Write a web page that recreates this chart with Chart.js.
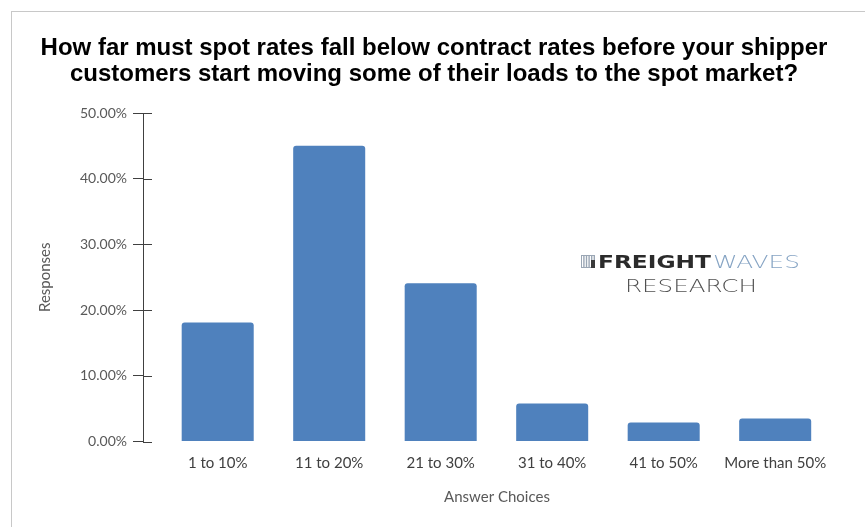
<!DOCTYPE html>
<html>
<head>
<meta charset="utf-8">
<script src="https://cdn.jsdelivr.net/npm/chart.js@4/dist/chart.umd.min.js"></script>
<style>
  html, body { margin: 0; padding: 0; background: #fff; overflow: hidden; }
  #frame { position: absolute; left: 11px; top: 11px; width: 900px; height: 600px; border: 1px solid #c8c8c8; }
  #c { position: absolute; left: 0; top: 0; }
</style>
</head>
<body>
<div id="frame"></div>
<canvas id="c" width="865" height="527"></canvas>
<script>
const categories = ['1 to 10%', '11 to 20%', '21 to 30%', '31 to 40%', '41 to 50%', 'More than 50%'];
const responses = [18.1, 45.0, 24.1, 5.8, 2.9, 3.5];
const yTickValues = [0, 10, 20, 30, 40, 50];
const titleLines = ['How far must spot rates fall below contract rates before your shipper',
                    'customers start moving some of their loads to the spot market?'];
const xAxisTitle = 'Answer Choices';
const yAxisTitle = 'Responses';

const labelFont = 'Lato, Calibri, "Open Sans", sans-serif';

function fitText(ctx, text, x, baseline, width, font, color) {
  ctx.save();
  ctx.font = font;
  ctx.fillStyle = color;
  ctx.textAlign = 'left';
  ctx.textBaseline = 'alphabetic';
  const w = ctx.measureText(text).width;
  ctx.translate(x, baseline);
  ctx.scale(width / w, 1);
  ctx.fillText(text, 0, 0);
  ctx.restore();
}

const extras = {
  id: 'extras',
  afterDraw(chart) {
    const ctx = chart.ctx;
    const y = chart.scales.y;
    const axisX = chart.chartArea.left;
    // inward half of the crossing tick marks
    ctx.save();
    ctx.strokeStyle = '#404040';
    ctx.lineWidth = 1;
    ctx.beginPath();
    yTickValues.forEach(v => {
      const py = Math.round(y.getPixelForValue(v)) + 0.5;
      ctx.moveTo(axisX, py);
      ctx.lineTo(axisX + 9, py);
    });
    ctx.stroke();
    ctx.restore();

    // watermark logo
    ctx.save();
    ctx.fillStyle = '#9aa6b4';
    ctx.fillRect(581, 255, 14, 13);
    ctx.fillStyle = '#ffffff';
    for (let i = 0; i < 5; i++) ctx.fillRect(582 + i * 2.6, 256, 1.2, 11);
    ctx.fillStyle = '#3a3a3a';
    ctx.fillRect(591, 260, 4, 8);
    ctx.restore();
    fitText(ctx, 'FREIGHT', 598, 268, 113, '900 18px "DejaVu Sans", sans-serif', '#2b2b2b');
    fitText(ctx, 'WAVES', 713, 268, 87, '300 18px "DejaVu Sans", sans-serif', '#86a4c4');
    fitText(ctx, 'RESEARCH', 625, 292, 132, '300 18px "DejaVu Sans", sans-serif', '#505050');
  }
};

new Chart(document.getElementById('c'), {
  type: 'bar',
  data: {
    datasets: [{
      data: responses.map((v, i) => ({ x: i, y: v })),
      backgroundColor: '#4F81BD',
      borderWidth: 0,
      borderRadius: { topLeft: 3, topRight: 3, bottomLeft: 0, bottomRight: 0 },
      borderSkipped: 'bottom',
      categoryPercentage: 1,
      barPercentage: 0.646
    }]
  },
  options: {
    responsive: false,
    animation: false,
    devicePixelRatio: 1,
    layout: { padding: { left: 17, right: 14, top: 0, bottom: 0 } },
    plugins: {
      legend: { display: false },
      tooltip: { enabled: false },
      title: {
        display: true,
        text: titleLines,
        color: '#000000',
        font: { family: '"Liberation Sans", Arial, sans-serif', size: 24, weight: 'bold', lineHeight: 26 / 24 },
        padding: { top: 35, bottom: 26 }
      }
    },
    scales: {
      x: {
        type: 'linear',
        offset: false,
        min: -0.67,
        max: 5.68,
        afterBuildTicks: s => { s.ticks = categories.map((_, i) => ({ value: i })); },
        afterFit: s => { s.height = 85.5; },
        ticks: {
          autoSkip: false,
          maxRotation: 0,
          padding: 5,
          color: '#404040',
          font: { family: labelFont, size: 15 },
          callback: v => categories[v]
        },
        grid: { display: false },
        border: { display: false },
        title: {
          display: true,
          text: xAxisTitle,
          color: '#595959',
          font: { family: labelFont, size: 15, lineHeight: 1.2 },
          padding: { top: 21, bottom: 21 }
        }
      },
      y: {
        min: 0,
        max: 50,
        afterBuildTicks: s => { s.ticks = yTickValues.map(v => ({ value: v })); },
        afterFit: s => { s.width = 126; },
        ticks: {
          padding: 6,
          color: '#595959',
          font: { family: labelFont, size: 14 },
          callback: v => v.toFixed(2) + '%'
        },
        grid: { drawOnChartArea: false, tickLength: 10, color: '#404040', lineWidth: 1 },
        border: { display: true, color: '#404040', width: 1 },
        title: {
          display: true,
          text: yAxisTitle,
          color: '#595959',
          font: { family: labelFont, size: 15, lineHeight: 1.2 },
          padding: { top: 19, bottom: 0 }
        }
      }
    }
  },
  plugins: [extras]
});
</script>
</body>
</html>
